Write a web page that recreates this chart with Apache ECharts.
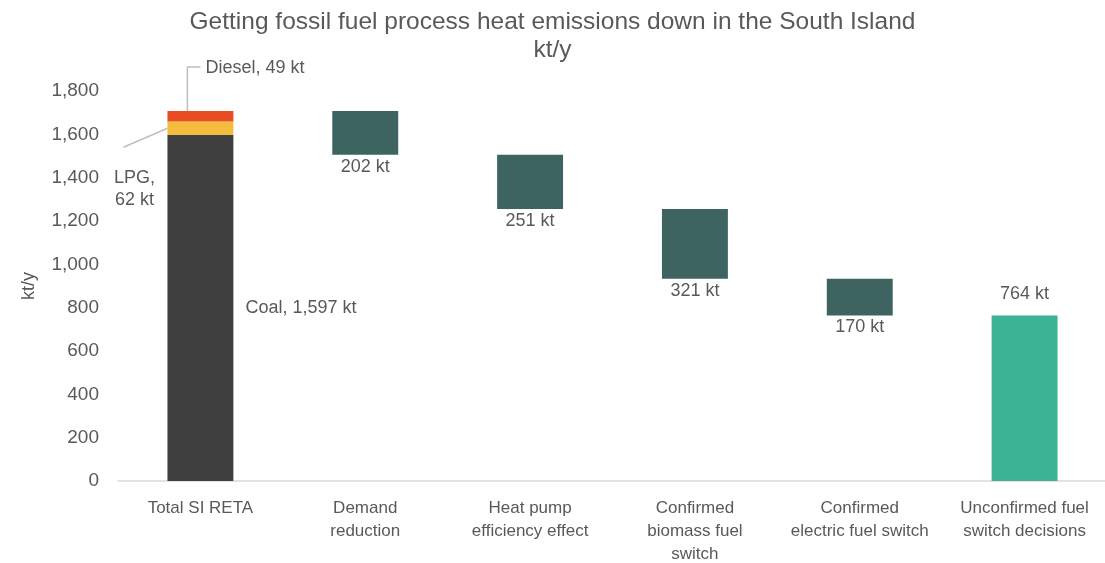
<!DOCTYPE html>
<html>
<head>
<meta charset="utf-8">
<script src="https://cdn.jsdelivr.net/npm/echarts@6/dist/echarts.min.js"></script>
<style>
  html, body { margin: 0; padding: 0; background: #fff; }
  #chart { width: 1105px; height: 563px; }
</style>
</head>
<body>
<div id="chart"></div>
<script>
// Waterfall of South Island process heat emissions (kt/y)
const categories = [
  'Total SI RETA',
  'Demand\nreduction',
  'Heat pump\nefficiency effect',
  'Confirmed\nbiomass fuel\nswitch',
  'Confirmed\nelectric fuel switch',
  'Unconfirmed fuel\nswitch decisions'
];
const coal = 1597;
const lpg = 62;
const diesel = 49;
const reductions = [202, 251, 321, 170];   // steps 1..4
const remaining = 764;                      // last column
const yTicks = [0, 200, 400, 600, 800, 1000, 1200, 1400, 1600, 1800];

const FONT = '"Liberation Sans", Arial, sans-serif';
const TEXT = '#595959';

// floating base for each reduction step
const total = coal + lpg + diesel;
const baseVals = [];
let level = total;
reductions.forEach(r => { level -= r; baseVals.push(level); });

const baseData = categories.map((c, i) => i >= 1 && i <= reductions.length ? baseVals[i - 1] : '-');
const stepData = categories.map((c, i) => i >= 1 && i <= reductions.length ? reductions[i - 1] : '-');
const onlyFirst = v => categories.map((c, i) => i === 0 ? v : '-');
const lastData = categories.map((c, i) => i === categories.length - 1 ? remaining : '-');

const fmt = n => n.toLocaleString('en-US');

const chart = echarts.init(document.getElementById('chart'));
chart.setOption({
  animation: false,
  backgroundColor: '#fff',
  textStyle: { fontFamily: FONT, color: TEXT },
  title: {
    text: 'Getting fossil fuel process heat emissions down in the South Island\nkt/y',
    left: 'center',
    top: 3,
    textStyle: { fontFamily: FONT, fontSize: 24.5, fontWeight: 'normal', color: TEXT, lineHeight: 28 }
  },
  grid: { left: 118, right: -2, top: 91, bottom: 82, containLabel: false, outerBoundsMode: 'none' },
  xAxis: {
    type: 'category',
    data: categories,
    axisLine: { lineStyle: { color: '#D9D9D9', width: 1.5 } },
    axisTick: { show: false },
    axisLabel: { color: TEXT, fontSize: 17, lineHeight: 23, margin: 16, interval: 0, fontFamily: FONT }
  },
  yAxis: {
    type: 'value',
    min: yTicks[0], max: yTicks[yTicks.length - 1], interval: yTicks[1] - yTicks[0],
    name: 'kt/y',
    nameLocation: 'middle',
    nameGap: 80,
    nameTextStyle: { color: TEXT, fontSize: 18, fontFamily: FONT },
    splitLine: { show: false },
    axisLine: { show: false },
    axisTick: { show: false },
    axisLabel: { color: TEXT, fontSize: 19, margin: 19, fontFamily: FONT, formatter: v => fmt(v) }
  },
  series: [
    {
      type: 'bar', stack: 'w', barWidth: '40%',
      data: baseData,
      itemStyle: { color: 'transparent' },
      emphasis: { disabled: true }
    },
    {
      name: 'Coal', type: 'bar', stack: 'w',
      data: onlyFirst(coal),
      itemStyle: { color: '#404040' },
      label: {
        show: true, position: 'right', distance: 12,
        color: TEXT, fontSize: 18, fontFamily: FONT,
        formatter: p => 'Coal, ' + fmt(p.value) + ' kt'
      }
    },
    {
      name: 'LPG', type: 'bar', stack: 'w',
      data: onlyFirst(lpg),
      itemStyle: { color: '#F4BC3C' },
      label: {
        show: true, position: [-33, 67], align: 'center', verticalAlign: 'middle',
        color: TEXT, fontSize: 18, lineHeight: 22, fontFamily: FONT,
        formatter: p => 'LPG,\n' + p.value + ' kt'
      }
    },
    {
      name: 'Diesel', type: 'bar', stack: 'w',
      data: onlyFirst(diesel),
      itemStyle: { color: '#E84E22' },
      label: {
        show: true, position: [38, -43], align: 'left', verticalAlign: 'middle',
        color: TEXT, fontSize: 18, fontFamily: FONT,
        formatter: p => 'Diesel, ' + p.value + ' kt'
      }
    },
    {
      name: 'Reduction', type: 'bar', stack: 'w',
      data: stepData,
      itemStyle: { color: '#3D6460' },
      label: {
        show: true, position: 'bottom', distance: 3,
        color: TEXT, fontSize: 18, fontFamily: FONT,
        formatter: p => p.value + ' kt'
      }
    },
    {
      name: 'Remaining', type: 'bar', stack: 'w',
      data: lastData,
      itemStyle: { color: '#3BB394' },
      label: {
        show: true, position: 'top', distance: 12,
        color: TEXT, fontSize: 18, fontFamily: FONT,
        formatter: p => p.value + ' kt'
      }
    },
    {
      // leader lines for the LPG and Diesel labels on the first column
      type: 'custom',
      silent: true,
      z: 1,
      data: [[0, coal + lpg / 2], [0, total]],
      renderItem: (params, api) => {
        const c = api.coord([api.value(0), api.value(1)]);
        const band = api.size([1, 0])[0];
        const half = band * 0.4 / 2;
        let pts;
        if (params.dataIndex === 0) {
          pts = [[c[0] - half, c[1]], [c[0] - half - 44, c[1] + 19]];
        } else {
          pts = [[c[0] - 13, c[1]], [c[0] - 13, c[1] - 44], [c[0], c[1] - 44]];
        }
        return {
          type: 'polyline',
          shape: { points: pts },
          style: { stroke: '#BFBFBF', lineWidth: 1.5, fill: null }
        };
      }
    }
  ]
});
</script>
</body>
</html>
